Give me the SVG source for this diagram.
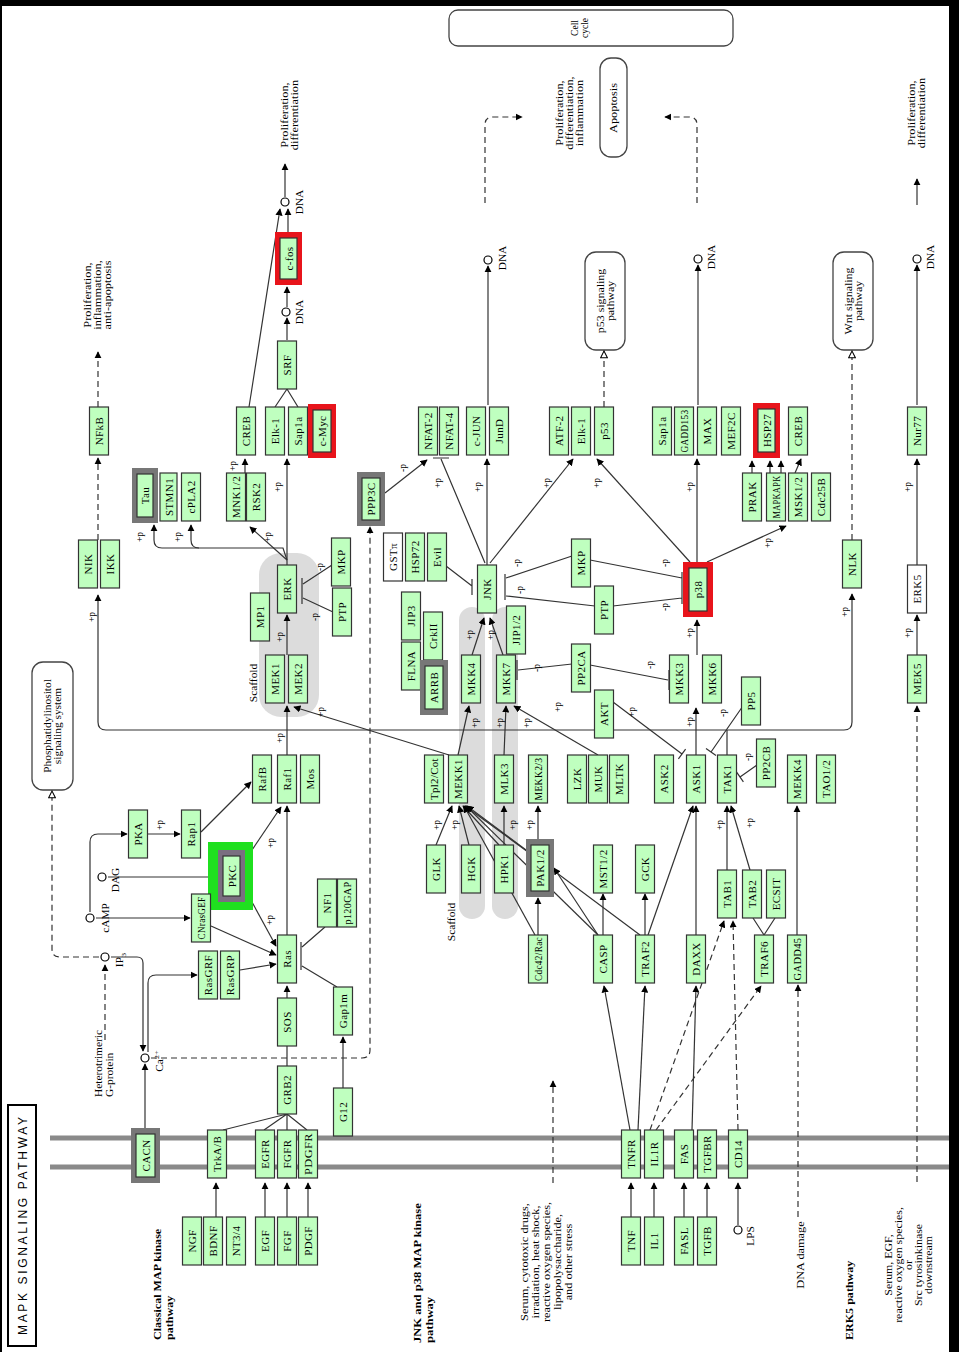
<svg xmlns="http://www.w3.org/2000/svg" width="959" height="1352" viewBox="0 0 959 1352">
<defs>
<marker id="a" viewBox="0 0 10 10" refX="9" refY="5" markerWidth="6" markerHeight="6" orient="auto"><path d="M0,0 L10,5 L0,10z" fill="#000"/></marker>
<marker id="h" viewBox="0 0 10 10" refX="9" refY="5" markerWidth="7" markerHeight="7" orient="auto"><path d="M1,1 L9,5 L1,9z" fill="#fff" stroke="#000" stroke-width="1.2"/></marker>
<style>
text{font-family:"Liberation Serif",serif;fill:#000}
.nd rect{fill:#bfffbf;stroke:#333;stroke-width:1.2}
.nd text{font-size:11px;letter-spacing:0.4px;text-anchor:middle;dominant-baseline:central}
.wh rect{fill:#fff}
.c path{stroke:#333;stroke-width:1.2;fill:none}
.c .ar{marker-end:url(#a)}
.c .ds{stroke-dasharray:6 4}
.c .ho{marker-end:url(#h)}
.p{font-size:9.5px;text-anchor:middle;dominant-baseline:central}
.t9{font-size:9.5px;text-anchor:middle;dominant-baseline:central}
.bd{font-size:10.5px;font-weight:bold;dominant-baseline:central}
.box{fill:#fff;stroke:#444;stroke-width:1.3}
.sc{fill:#dcdcdc}
circle{fill:#fff;stroke:#000;stroke-width:1.2}
.mem{stroke:#8a8a8a;stroke-width:5}
</style>
</defs>
<rect x="0" y="0" width="959" height="1352" fill="#fff"/>
<rect x="0" y="0" width="959" height="6" fill="#000"/>
<rect x="949" y="0" width="10" height="1352" fill="#000"/>
<rect x="0" y="0" width="2" height="1352" fill="#000"/>

<g id="membrane">
<line class="mem" x1="50" y1="1138" x2="949" y2="1138"/>
<line class="mem" x1="50" y1="1167" x2="949" y2="1167"/>
</g>

<g id="scaffolds">
<rect class="sc" x="259" y="553" width="60" height="164" rx="22"/>
<rect class="sc" x="459" y="607" width="26" height="312" rx="13"/>
<rect class="sc" x="492" y="607" width="26" height="312" rx="13"/>
<text class="t9" transform="translate(254,683) rotate(-90) scale(1.2,1)">Scaffold</text>
<text class="t9" transform="translate(452,922) rotate(-90) scale(1.2,1)">Scaffold</text>
</g>

<g id="cellcycle"><rect class="box" x="449" y="10" width="284" height="36" rx="9"/><text class="t9" transform="translate(580,28) rotate(-90)"><tspan x="0" dy="-5">Cell</tspan><tspan x="0" dy="10">cycle</tspan></text></g>
<g id="apoptosis"><rect class="box" x="600" y="58" width="27" height="99" rx="11"/><text class="t9" transform="translate(613.5,108) rotate(-90) scale(1.3,1)">Apoptosis</text></g>
<g id="p53path"><rect class="box" x="585" y="252" width="40" height="98" rx="11"/><text class="t9" transform="translate(605,301) rotate(-90) scale(1.25,1)"><tspan x="0" dy="-5">p53 signaling</tspan><tspan x="0" dy="10">pathway</tspan></text></g>
<g id="wntpath"><rect class="box" x="833" y="252" width="40" height="98" rx="11"/><text class="t9" transform="translate(853,301) rotate(-90) scale(1.25,1)"><tspan x="0" dy="-5">Wnt signaling</tspan><tspan x="0" dy="10">pathway</tspan></text></g>
<g id="pipath"><rect class="box" x="32" y="662" width="41" height="128" rx="11"/><text class="t9" transform="translate(52.5,726) rotate(-90) scale(1.2,1)"><tspan x="0" dy="-5">Phosphatidylinositol</tspan><tspan x="0" dy="10">signaling system</tspan></text></g>

<g id="labels">
<text class="t9" transform="translate(290,115) rotate(-90) scale(1.3,1)"><tspan x="0" dy="-5">Proliferation,</tspan><tspan x="0" dy="10">differentiation</tspan></text>
<text class="t9" transform="translate(98,295) rotate(-90) scale(1.3,1)"><tspan x="0" dy="-10">Proliferation,</tspan><tspan x="0" dy="10">inflammation,</tspan><tspan x="0" dy="10">anti-apoptosis</tspan></text>
<text class="t9" transform="translate(570,113) rotate(-90) scale(1.3,1)"><tspan x="0" dy="-10">Proliferation,</tspan><tspan x="0" dy="10">differentiation,</tspan><tspan x="0" dy="10">inflammation</tspan></text>
<text class="t9" transform="translate(917,113) rotate(-90) scale(1.3,1)"><tspan x="0" dy="-5">Proliferation,</tspan><tspan x="0" dy="10">differentiation</tspan></text>
<text class="t9" transform="translate(104,1097) rotate(-90) scale(1.2,1)" style="text-anchor:start"><tspan x="0" dy="-6">Heterotrimeric</tspan><tspan x="0" dy="11">G-protein</tspan></text>
<text class="bd" transform="translate(163,1340) rotate(-90) scale(1.15,1)"><tspan x="0" dy="-6">Classical MAP kinase</tspan><tspan x="0" dy="12">pathway</tspan></text>
<text class="bd" transform="translate(423,1343) rotate(-90) scale(1.2,1)"><tspan x="0" dy="-6">JNK and p38 MAP kinase</tspan><tspan x="0" dy="12">pathway</tspan></text>
<text class="t9" transform="translate(547,1262) rotate(-90) scale(1.3,1)"><tspan x="0" dy="-22">Serum, cytotoxic drugs,</tspan><tspan x="0" dy="11">irradiation, heat shock,</tspan><tspan x="0" dy="11">reactive oxygen species,</tspan><tspan x="0" dy="11">lipopolysaccharide,</tspan><tspan x="0" dy="11">and other stress</tspan></text>
<text class="t9" transform="translate(801,1255) rotate(-90) scale(1.3,1)">DNA damage</text>
<text class="bd" transform="translate(849,1340) rotate(-90) scale(1.15,1)">ERK5 pathway</text>
<text class="t9" transform="translate(908,1265) rotate(-90) scale(1.25,1)"><tspan x="0" dy="-20">Serum, EGF,</tspan><tspan x="0" dy="10">reactive oxygen species,</tspan><tspan x="0" dy="10">or</tspan><tspan x="0" dy="10">Src tyrosinkinase</tspan><tspan x="0" dy="10">downstream</tspan></text>
<rect x="8" y="1105" width="28" height="241" fill="#fff" stroke="#000" stroke-width="2"/>
<text transform="translate(23,1226) rotate(-90)" style="font-family:'Liberation Sans',sans-serif;font-size:12px;text-anchor:middle;dominant-baseline:central" textLength="218" lengthAdjust="spacing">MAPK  SIGNALING  PATHWAY</text>
</g>

<g id="compounds">
<circle cx="285" cy="202" r="4"/><text class="t9" transform="translate(300,202) rotate(-90) scale(1.2,1)">DNA</text>
<circle cx="286" cy="312" r="4"/><text class="t9" transform="translate(300,312) rotate(-90) scale(1.2,1)">DNA</text>
<circle cx="488" cy="260" r="4"/><text class="t9" transform="translate(503,258) rotate(-90) scale(1.2,1)">DNA</text>
<circle cx="698" cy="259" r="4"/><text class="t9" transform="translate(712,257) rotate(-90) scale(1.2,1)">DNA</text>
<circle cx="917" cy="259" r="4"/><text class="t9" transform="translate(931,257) rotate(-90) scale(1.2,1)">DNA</text>
<circle cx="90" cy="918" r="4"/><text class="t9" transform="translate(106,918) rotate(-90) scale(1.2,1)">cAMP</text>
<circle cx="102" cy="877" r="4"/><text class="t9" transform="translate(116,880) rotate(-90) scale(1.2,1)">DAG</text>
<circle cx="105" cy="957" r="4"/><text class="t9" transform="translate(120,960) rotate(-90) scale(1.2,1)">IP<tspan dy="3" font-size="7">3</tspan></text>
<circle cx="145" cy="1058" r="4"/><text class="t9" transform="translate(160,1061) rotate(-90) scale(1.2,1)">Ca<tspan dy="-4" font-size="7">2+</tspan></text>
<circle cx="738" cy="1230" r="4"/><text class="t9" transform="translate(751,1236) rotate(-90) scale(1.2,1)">LPS</text>
</g>

<g id="edges" class="c">
<path class="ar" d="M216 1217V1183"/>
<path class="ar" d="M265 1217V1183"/>
<path class="ar" d="M287 1217V1183"/>
<path class="ar" d="M308 1217V1183"/>
<path class="ar" d="M631 1217V1183"/>
<path class="ar" d="M654 1217V1183"/>
<path class="ar" d="M684 1217V1183"/>
<path class="ar" d="M707 1217V1183"/>
<path class="ar" d="M738 1225V1183"/>
<path d="M223 1130L287 1114M264 1130L287 1114M287 1130V1114M307 1130L287 1114M287 1066V1046"/>
<path class="ar" d="M287 998V986"/>
<path class="ar" d="M287 935V806"/>
<path class="ar" d="M287 755V706"/>
<path class="ar" d="M287 655V615"/>
<path class="ar" d="M287 565V459"/>
<path class="ar" d="M287 560L250 527"/>
<path class="ar" d="M287 560L283 548H162Q154 548 154 540V525"/>
<path class="ar" d="M199 548Q191 548 191 540V525"/>
<path class="ar" d="M245 473V459"/>
<path d="M275 407L287 389M298 407L287 389"/>
<path class="ar" d="M287 340V318"/>
<path class="ar" d="M287 307V287"/>
<path class="ar" d="M288 232V209"/>
<path class="ar" d="M249 407L280 209"/>
<path class="ar" d="M285 197V164"/>
<path class="ar ds" d="M98 540V458"/>
<path class="ar ds" d="M98 407V352"/>
<path class="ar" d="M106 730Q98 730 98 722V595"/>
<path class="ar" d="M106 730H844Q852 730 852 722V594"/>
<path d="M727 755V730"/>
<path class="ho ds" d="M852 540V351"/>
<path class="ho ds" d="M604 407V351"/>
<path class="ar" d="M488 405V266"/>
<path class="ar" d="M698 405V265"/>
<path class="ar" d="M917 405V265"/>
<path class="ar" d="M917 205V179"/>
<path class="ar ds" d="M485 203V125Q485 117 493 117H522"/>
<path class="ar ds" d="M697 203V125Q697 117 689 117H665"/>
<path class="ar" d="M917 565V459"/>
<path class="ar" d="M917 655V615"/>
<path class="ar ds" d="M917 1182V706"/>
<path class="ar ds" d="M798 1217V985"/>
<path class="ar" d="M797 935V806"/>
<path class="ar ds" d="M553 1183V1081"/>
<path class="ar" d="M487 565V459"/>
<path d="M485 563L441 459M433 458H449"/>
<path class="ar" d="M385 493L427 460"/>
<path class="ar" d="M490 563L573 459"/>
<path class="ar" d="M690 562L597 459"/>
<path class="ar" d="M697 562V459"/>
<path class="ar" d="M707 562L786 526"/>
<path class="ar" d="M752 473V461"/>
<path class="ar" d="M770 473V461"/>
<path class="ar" d="M781 473V461"/>
<path class="ar" d="M795 473L801 459"/>
<path d="M446 566L472 586M472 579V595"/>
<path d="M572 556L506 578M595 606L506 596M505 574V600"/>
<path d="M590 560L682 578M613 606L682 598M682 572V604"/>
<path class="ar" d="M472 655L484 618"/>
<path class="ar" d="M503 655L490 618"/>
<path class="ar" d="M697 655V620"/>
<path d="M572 664L518 670M517 660V680"/>
<path d="M590 665L668 680M669 670V690"/>
<path class="ar" d="M458 755L469 706"/>
<path class="ar" d="M504 755L506 706"/>
<path class="ar" d="M449 755L294 707"/>
<path class="ar" d="M598 755L514 706"/>
<path d="M613 702L682 754M678.4 758.8L685.6 749.2"/>
<path class="ar" d="M696 755V708"/>
<path d="M745 703L711 752M706 748.6L716 755.4"/>
<path d="M757 765L740 777M736.6 772.1L743.4 781.9"/>
<path class="ar" d="M727 870V806"/>
<path class="ar" d="M750 870L731 806"/>
<path d="M764 935L753 918M764 935L775 918"/>
<path class="ar" d="M648 935L693 806"/>
<path class="ar" d="M696 935V806"/>
<path class="ar" d="M645 935V894"/>
<path class="ar" d="M603 935V894"/>
<path class="ar" d="M538 935V898"/>
<path class="ar" d="M538 839V806"/>
<path class="ar" d="M436 845L452 806"/>
<path class="ar" d="M469 845L459 806"/>
<path class="ar" d="M499 845L463 806"/>
<path class="ar" d="M504 845V806"/>
<path class="ar" d="M528 852L465 806"/>
<path class="ar" d="M535 935L464 806"/>
<path class="ar" d="M598 935L466 806"/>
<path class="ar" d="M640 935L467 806"/>
<path class="ar" d="M598 935L554 868"/>
<path class="ar" d="M630 1130L604 986"/>
<path class="ar" d="M638 1130L645 986"/>
<path class="ar" d="M692 1130L696 986"/>
<path class="ar ds" d="M650 1130L724 921"/>
<path class="ar ds" d="M656 1130L761 986"/>
<path class="ar ds" d="M738 1130L733 921"/>
<path class="ar" d="M145 1128V1064"/>
<path class="ar" d="M111 957H137Q143 957 143 963V1051"/>
<path class="ar" d="M148 1052V983Q148 975 156 975H197"/>
<path class="ar ds" d="M105 1040V965"/>
<path class="ho ds" d="M99 957H60Q52 957 52 949V791"/>
<path class="ar ds" d="M151 1058H362Q370 1058 370 1050V527"/>
<path class="ar" d="M96 918H190"/>
<path class="ar" d="M90 912V842Q90 834 98 834H127"/>
<path class="ar" d="M147 834H180"/>
<path class="ar" d="M201 832L251 782"/>
<path d="M108 877H209"/>
<path class="ar" d="M252 850L281 807"/>
<path class="ar" d="M252 902L276 946"/>
<path class="ar" d="M211 926L276 955"/>
<path class="ar" d="M240 970L276 964"/>
<path class="ar" d="M343 1088V1037"/>
<path d="M337 987L302 966M325 927L302 947M301 942V970"/>
<path d="M332 565L303 584M333 612L303 598M302 578V604"/>
</g>

<g id="plabels">
<text class="p" transform="translate(280,738) rotate(-90)">+p</text>
<text class="p" transform="translate(321,712) rotate(-90)">+p</text>
<text class="p" transform="translate(280,637) rotate(-90)">+p</text>
<text class="p" transform="translate(278,487) rotate(-90)">+p</text>
<text class="p" transform="translate(268,537) rotate(-90)">+p</text>
<text class="p" transform="translate(140,537) rotate(-90)">+p</text>
<text class="p" transform="translate(178,537) rotate(-90)">+p</text>
<text class="p" transform="translate(233,466) rotate(-90)">+p</text>
<text class="p" transform="translate(92,617) rotate(-90)">+p</text>
<text class="p" transform="translate(845,612) rotate(-90)">+p</text>
<text class="p" transform="translate(908,487) rotate(-90)">+p</text>
<text class="p" transform="translate(908,633) rotate(-90)">+p</text>
<text class="p" transform="translate(160,825) rotate(-90)">+p</text>
<text class="p" transform="translate(271,843) rotate(-90)">+p</text>
<text class="p" transform="translate(270,920) rotate(-90)">+p</text>
<text class="p" transform="translate(403,468) rotate(-90)">-p</text>
<text class="p" transform="translate(438,483) rotate(-90)">+p</text>
<text class="p" transform="translate(478,487) rotate(-90)">+p</text>
<text class="p" transform="translate(547,483) rotate(-90)">+p</text>
<text class="p" transform="translate(597,483) rotate(-90)">+p</text>
<text class="p" transform="translate(517,563) rotate(-90)">-p</text>
<text class="p" transform="translate(520,590) rotate(-90)">-p</text>
<text class="p" transform="translate(470,635) rotate(-90)">+p</text>
<text class="p" transform="translate(491,635) rotate(-90)">+p</text>
<text class="p" transform="translate(537,668) rotate(-90)">-p</text>
<text class="p" transform="translate(665,563) rotate(-90)">-p</text>
<text class="p" transform="translate(665,607) rotate(-90)">-p</text>
<text class="p" transform="translate(690,487) rotate(-90)">+p</text>
<text class="p" transform="translate(768,543) rotate(-90)">+p</text>
<text class="p" transform="translate(690,633) rotate(-90)">+p</text>
<text class="p" transform="translate(650,665) rotate(-90)">-p</text>
<text class="p" transform="translate(690,722) rotate(-90)">+p</text>
<text class="p" transform="translate(723,713) rotate(-90)">-p</text>
<text class="p" transform="translate(748,757) rotate(-90)">-p</text>
<text class="p" transform="translate(720,825) rotate(-90)">+p</text>
<text class="p" transform="translate(750,823) rotate(-90)">+p</text>
<text class="p" transform="translate(632,712) rotate(-90)">+p</text>
<text class="p" transform="translate(558,707) rotate(-90)">+p</text>
<text class="p" transform="translate(475,723) rotate(-90)">+p</text>
<text class="p" transform="translate(500,723) rotate(-90)">+p</text>
<text class="p" transform="translate(527,723) rotate(-90)">+p</text>
<text class="p" transform="translate(437,825) rotate(-90)">+p</text>
<text class="p" transform="translate(455,825) rotate(-90)">+p</text>
<text class="p" transform="translate(513,825) rotate(-90)">+p</text>
<text class="p" transform="translate(530,825) rotate(-90)">+p</text>
<text class="p" transform="translate(320,567) rotate(-90)">-p</text>
<text class="p" transform="translate(315,617) rotate(-90)">-p</text>
</g>

<g id="n_NFkB" class="nd"><rect x="89.5" y="407" width="19" height="48"/><text transform="translate(99,431) rotate(-90)">NFkB</text></g>
<g id="n_CREB1" class="nd"><rect x="236.5" y="407" width="19" height="48"/><text transform="translate(246,431) rotate(-90)">CREB</text></g>
<g id="n_Elk1a" class="nd"><rect x="265.5" y="407" width="19" height="48"/><text transform="translate(275,431) rotate(-90)">Elk-1</text></g>
<g id="n_Sap1a1" class="nd"><rect x="288.5" y="407" width="19" height="48"/><text transform="translate(298,431) rotate(-90)">Sap1a</text></g>
<g id="n_cMyc" class="nd"><rect x="308" y="404" width="28" height="54" style="fill:#e8141b;stroke:none"/><rect x="313" y="410" width="18" height="42"/><text transform="translate(322,431) rotate(-90)">c-Myc</text></g>
<g id="n_cfos" class="nd"><rect x="275" y="232" width="27" height="53" style="fill:#e8141b;stroke:none"/><rect x="280" y="238" width="17" height="41"/><text transform="translate(288.5,258.5) rotate(-90)">c-fos</text></g>
<g id="n_SRF" class="nd"><rect x="277.5" y="341" width="19" height="48"/><text transform="translate(287,365) rotate(-90)">SRF</text></g>
<g id="n_NFAT2" class="nd"><rect x="418.5" y="407" width="19" height="48"/><text transform="translate(428,431) rotate(-90)">NFAT-2</text></g>
<g id="n_NFAT4" class="nd"><rect x="439.5" y="407" width="19" height="48"/><text transform="translate(449,431) rotate(-90)">NFAT-4</text></g>
<g id="n_cJUN" class="nd"><rect x="466.5" y="407" width="19" height="48"/><text transform="translate(476,431) rotate(-90)">c-JUN</text></g>
<g id="n_JunD" class="nd"><rect x="489.5" y="407" width="19" height="48"/><text transform="translate(499,431) rotate(-90)">JunD</text></g>
<g id="n_ATF2" class="nd"><rect x="549.5" y="407" width="19" height="48"/><text transform="translate(559,431) rotate(-90)">ATF-2</text></g>
<g id="n_Elk1b" class="nd"><rect x="571.5" y="407" width="19" height="48"/><text transform="translate(581,431) rotate(-90)">Elk-1</text></g>
<g id="n_p53" class="nd"><rect x="594.5" y="407" width="19" height="48"/><text transform="translate(604,431) rotate(-90)">p53</text></g>
<g id="n_Sap1a2" class="nd"><rect x="652.5" y="407" width="19" height="48"/><text transform="translate(662,431) rotate(-90)">Sap1a</text></g>
<g id="n_GADD153" class="nd"><rect x="674.5" y="407" width="19" height="48"/><text transform="translate(684,431) rotate(-90)" textLength="43" lengthAdjust="spacingAndGlyphs">GADD153</text></g>
<g id="n_MAX" class="nd"><rect x="697.5" y="407" width="19" height="48"/><text transform="translate(707,431) rotate(-90)">MAX</text></g>
<g id="n_MEF2C" class="nd"><rect x="721.5" y="407" width="19" height="48"/><text transform="translate(731,431) rotate(-90)">MEF2C</text></g>
<g id="n_HSP27" class="nd"><rect x="753" y="403" width="27" height="55" style="fill:#e8141b;stroke:none"/><rect x="758" y="409" width="17" height="43"/><text transform="translate(766.5,430.5) rotate(-90)">HSP27</text></g>
<g id="n_CREB2" class="nd"><rect x="788.5" y="407" width="19" height="48"/><text transform="translate(798,431) rotate(-90)">CREB</text></g>
<g id="n_Nur77" class="nd"><rect x="907.5" y="407" width="19" height="48"/><text transform="translate(917,431) rotate(-90)">Nur77</text></g>

<g id="n_Tau" class="nd"><rect x="132" y="468" width="26" height="55" style="fill:#777;stroke:none"/><rect x="137" y="474" width="16" height="43"/><text transform="translate(145,495.5) rotate(-90)">Tau</text></g>
<g id="n_STMN1" class="nd"><rect x="160" y="473" width="17" height="48"/><text transform="translate(168.5,497) rotate(-90)">STMN1</text></g>
<g id="n_cPLA2" class="nd"><rect x="181.5" y="473" width="19" height="48"/><text transform="translate(191,497) rotate(-90)">cPLA2</text></g>
<g id="n_MNK12" class="nd"><rect x="226.5" y="473" width="19" height="48"/><text transform="translate(236,497) rotate(-90)">MNK1/2</text></g>
<g id="n_RSK2" class="nd"><rect x="246.5" y="473" width="19" height="48"/><text transform="translate(256,497) rotate(-90)">RSK2</text></g>
<g id="n_PPP3C" class="nd"><rect x="357" y="472" width="28" height="54" style="fill:#777;stroke:none"/><rect x="362" y="478" width="18" height="42"/><text transform="translate(371,499) rotate(-90)">PPP3C</text></g>
<g id="n_PRAK" class="nd"><rect x="742.5" y="473" width="19" height="48"/><text transform="translate(752,497) rotate(-90)">PRAK</text></g>
<g id="n_MAPKAPK" class="nd"><rect x="766.5" y="473" width="19" height="48"/><text transform="translate(776,497) rotate(-90)" textLength="43" lengthAdjust="spacingAndGlyphs">MAPKAPK</text></g>
<g id="n_MSK12" class="nd"><rect x="788.5" y="473" width="19" height="48"/><text transform="translate(798,497) rotate(-90)">MSK1/2</text></g>
<g id="n_Cdc25B" class="nd"><rect x="811.5" y="473" width="19" height="48"/><text transform="translate(821,497) rotate(-90)">Cdc25B</text></g>

<g id="n_NIK" class="nd"><rect x="78.5" y="540" width="19" height="48"/><text transform="translate(88,564) rotate(-90)">NIK</text></g>
<g id="n_IKK" class="nd"><rect x="100.5" y="540" width="19" height="48"/><text transform="translate(110,564) rotate(-90)">IKK</text></g>
<g id="n_ERK" class="nd"><rect x="277.5" y="565" width="19" height="48"/><text transform="translate(287,589) rotate(-90)">ERK</text></g>
<g id="n_MP1" class="nd"><rect x="250.5" y="593" width="19" height="48"/><text transform="translate(260,617) rotate(-90)">MP1</text></g>
<g id="n_MKP1" class="nd"><rect x="331.5" y="538" width="19" height="48"/><text transform="translate(341,562) rotate(-90)">MKP</text></g>
<g id="n_PTP1" class="nd"><rect x="332.5" y="588" width="19" height="48"/><text transform="translate(342,612) rotate(-90)">PTP</text></g>
<g id="n_GSTpi" class="nd wh"><rect x="383.5" y="533" width="19" height="48"/><text transform="translate(393,557) rotate(-90)">GSTπ</text></g>
<g id="n_HSP72" class="nd"><rect x="405.5" y="533" width="19" height="48"/><text transform="translate(415,557) rotate(-90)">HSP72</text></g>
<g id="n_Evil" class="nd"><rect x="427.5" y="533" width="19" height="48"/><text transform="translate(437,557) rotate(-90)">Evil</text></g>
<g id="n_JNK" class="nd"><rect x="477.5" y="565" width="19" height="48"/><text transform="translate(487,589) rotate(-90)">JNK</text></g>
<g id="n_JIP3" class="nd"><rect x="401.5" y="592" width="19" height="48"/><text transform="translate(411,616) rotate(-90)">JIP3</text></g>
<g id="n_CrkII" class="nd"><rect x="423.5" y="612" width="19" height="48"/><text transform="translate(433,636) rotate(-90)">CrkII</text></g>
<g id="n_FLNA" class="nd"><rect x="401.5" y="642" width="19" height="48"/><text transform="translate(411,666) rotate(-90)">FLNA</text></g>
<g id="n_ARRB" class="nd"><rect x="420" y="660" width="28" height="55" style="fill:#777;stroke:none"/><rect x="425" y="666" width="18" height="43"/><text transform="translate(434,687.5) rotate(-90)">ARRB</text></g>
<g id="n_JIP12" class="nd"><rect x="506.5" y="606" width="19" height="48"/><text transform="translate(516,630) rotate(-90)">JIP1/2</text></g>
<g id="n_MKP2" class="nd"><rect x="571.5" y="539" width="19" height="48"/><text transform="translate(581,563) rotate(-90)">MKP</text></g>
<g id="n_PTP2" class="nd"><rect x="594.5" y="586" width="19" height="48"/><text transform="translate(604,610) rotate(-90)">PTP</text></g>
<g id="n_p38" class="nd"><rect x="683" y="562" width="30" height="55" style="fill:#e8141b;stroke:none"/><rect x="689" y="568" width="18" height="43"/><text transform="translate(698,589.5) rotate(-90)">p38</text></g>
<g id="n_NLK" class="nd"><rect x="842.5" y="540" width="19" height="48"/><text transform="translate(852,564) rotate(-90)">NLK</text></g>
<g id="n_ERK5" class="nd wh"><rect x="907.5" y="565" width="19" height="48"/><text transform="translate(917,589) rotate(-90)">ERK5</text></g>

<g id="n_MEK1" class="nd"><rect x="265.5" y="655" width="19" height="48"/><text transform="translate(275,679) rotate(-90)">MEK1</text></g>
<g id="n_MEK2" class="nd"><rect x="288.5" y="655" width="19" height="48"/><text transform="translate(298,679) rotate(-90)">MEK2</text></g>
<g id="n_MKK4" class="nd"><rect x="461.5" y="655" width="19" height="48"/><text transform="translate(471,679) rotate(-90)">MKK4</text></g>
<g id="n_MKK7" class="nd"><rect x="496.5" y="655" width="19" height="48"/><text transform="translate(506,679) rotate(-90)">MKK7</text></g>
<g id="n_PP2CA" class="nd"><rect x="571.5" y="644" width="19" height="48"/><text transform="translate(581,668) rotate(-90)">PP2CA</text></g>
<g id="n_MKK3" class="nd"><rect x="669.5" y="655" width="19" height="48"/><text transform="translate(679,679) rotate(-90)">MKK3</text></g>
<g id="n_MKK6" class="nd"><rect x="702.5" y="655" width="19" height="48"/><text transform="translate(712,679) rotate(-90)">MKK6</text></g>
<g id="n_AKT" class="nd"><rect x="594.5" y="690" width="19" height="48"/><text transform="translate(604,714) rotate(-90)">AKT</text></g>
<g id="n_PP5" class="nd"><rect x="741.5" y="677" width="19" height="48"/><text transform="translate(751,701) rotate(-90)">PP5</text></g>
<g id="n_MEK5" class="nd"><rect x="907.5" y="655" width="19" height="48"/><text transform="translate(917,679) rotate(-90)">MEK5</text></g>

<g id="n_RafB" class="nd"><rect x="252.5" y="755" width="19" height="48"/><text transform="translate(262,779) rotate(-90)">RafB</text></g>
<g id="n_Raf1" class="nd"><rect x="277.5" y="755" width="19" height="48"/><text transform="translate(287,779) rotate(-90)">Raf1</text></g>
<g id="n_Mos" class="nd"><rect x="300.5" y="755" width="19" height="48"/><text transform="translate(310,779) rotate(-90)">Mos</text></g>
<g id="n_Tpl2" class="nd"><rect x="424.5" y="755" width="19" height="48"/><text transform="translate(434,779) rotate(-90)" textLength="42" lengthAdjust="spacingAndGlyphs">Tpl2/Cot</text></g>
<g id="n_MEKK1" class="nd"><rect x="448.5" y="755" width="19" height="48"/><text transform="translate(458,779) rotate(-90)">MEKK1</text></g>
<g id="n_MLK3" class="nd"><rect x="494.5" y="755" width="19" height="48"/><text transform="translate(504,779) rotate(-90)">MLK3</text></g>
<g id="n_MEKK23" class="nd"><rect x="528.5" y="755" width="19" height="48"/><text transform="translate(538,779) rotate(-90)" textLength="43" lengthAdjust="spacingAndGlyphs">MEKK2/3</text></g>
<g id="n_LZK" class="nd"><rect x="567.5" y="755" width="19" height="48"/><text transform="translate(577,779) rotate(-90)">LZK</text></g>
<g id="n_MUK" class="nd"><rect x="588.5" y="755" width="19" height="48"/><text transform="translate(598,779) rotate(-90)">MUK</text></g>
<g id="n_MLTK" class="nd"><rect x="609.5" y="755" width="19" height="48"/><text transform="translate(619,779) rotate(-90)">MLTK</text></g>
<g id="n_ASK2" class="nd"><rect x="654.5" y="755" width="19" height="48"/><text transform="translate(664,779) rotate(-90)">ASK2</text></g>
<g id="n_ASK1" class="nd"><rect x="686.5" y="755" width="19" height="48"/><text transform="translate(696,779) rotate(-90)">ASK1</text></g>
<g id="n_TAK1" class="nd"><rect x="717.5" y="755" width="19" height="48"/><text transform="translate(727,779) rotate(-90)">TAK1</text></g>
<g id="n_PP2CB" class="nd"><rect x="756.5" y="739" width="19" height="48"/><text transform="translate(766,763) rotate(-90)">PP2CB</text></g>
<g id="n_MEKK4" class="nd"><rect x="787.5" y="755" width="19" height="48"/><text transform="translate(797,779) rotate(-90)">MEKK4</text></g>
<g id="n_TAO12" class="nd"><rect x="816.5" y="755" width="19" height="48"/><text transform="translate(826,779) rotate(-90)">TAO1/2</text></g>

<g id="n_PKA" class="nd"><rect x="128.5" y="810" width="19" height="48"/><text transform="translate(138,834) rotate(-90)">PKA</text></g>
<g id="n_Rap1" class="nd"><rect x="181.5" y="810" width="19" height="48"/><text transform="translate(191,834) rotate(-90)">Rap1</text></g>
<g id="n_PKC" class="nd"><rect x="208" y="842" width="45" height="68" style="fill:#1fe01f;stroke:none"/><rect x="218" y="850" width="27" height="52" style="fill:#7a6f80;stroke:none"/><rect x="223" y="856" width="17" height="40"/><text transform="translate(231.5,876) rotate(-90)">PKC</text></g>

<g id="n_GLK" class="nd"><rect x="426.5" y="845" width="19" height="48"/><text transform="translate(436,869) rotate(-90)">GLK</text></g>
<g id="n_HGK" class="nd"><rect x="461.5" y="845" width="19" height="48"/><text transform="translate(471,869) rotate(-90)">HGK</text></g>
<g id="n_HPK1" class="nd"><rect x="494.5" y="845" width="19" height="48"/><text transform="translate(504,869) rotate(-90)">HPK1</text></g>
<g id="n_PAK12" class="nd"><rect x="526" y="839" width="28" height="58" style="fill:#777;stroke:none"/><rect x="531" y="845" width="18" height="46"/><text transform="translate(540,868) rotate(-90)">PAK1/2</text></g>
<g id="n_MST12" class="nd"><rect x="593.5" y="845" width="19" height="48"/><text transform="translate(603,869) rotate(-90)">MST1/2</text></g>
<g id="n_GCK" class="nd"><rect x="635.5" y="845" width="19" height="48"/><text transform="translate(645,869) rotate(-90)">GCK</text></g>
<g id="n_TAB1" class="nd"><rect x="717.5" y="870" width="19" height="48"/><text transform="translate(727,894) rotate(-90)">TAB1</text></g>
<g id="n_TAB2" class="nd"><rect x="742.5" y="870" width="19" height="48"/><text transform="translate(752,894) rotate(-90)">TAB2</text></g>
<g id="n_ECSIT" class="nd"><rect x="766.5" y="870" width="19" height="48"/><text transform="translate(776,894) rotate(-90)">ECSIT</text></g>
<g id="n_NF1" class="nd"><rect x="317.5" y="879" width="19" height="48"/><text transform="translate(327,903) rotate(-90)">NF1</text></g>
<g id="n_p120GAP" class="nd"><rect x="337.5" y="879" width="19" height="48"/><text transform="translate(347,903) rotate(-90)" textLength="43" lengthAdjust="spacingAndGlyphs">p120GAP</text></g>
<g id="n_CNrasGEF" class="nd"><rect x="191.5" y="894" width="19" height="48"/><text transform="translate(201,918) rotate(-90)" textLength="43" lengthAdjust="spacingAndGlyphs">CNrasGEF</text></g>

<g id="n_Ras" class="nd"><rect x="277.5" y="935" width="19" height="48"/><text transform="translate(287,959) rotate(-90)">Ras</text></g>
<g id="n_RasGRF" class="nd"><rect x="198.5" y="951" width="19" height="48"/><text transform="translate(208,975) rotate(-90)">RasGRF</text></g>
<g id="n_RasGRP" class="nd"><rect x="220.5" y="951" width="19" height="48"/><text transform="translate(230,975) rotate(-90)">RasGRP</text></g>
<g id="n_Cdc42" class="nd"><rect x="528.5" y="935" width="19" height="48"/><text transform="translate(538,959) rotate(-90)" textLength="44" lengthAdjust="spacingAndGlyphs">Cdc42/Rac</text></g>
<g id="n_CASP" class="nd"><rect x="593.5" y="935" width="19" height="48"/><text transform="translate(603,959) rotate(-90)">CASP</text></g>
<g id="n_TRAF2" class="nd"><rect x="635.5" y="935" width="19" height="48"/><text transform="translate(645,959) rotate(-90)">TRAF2</text></g>
<g id="n_DAXX" class="nd"><rect x="686.5" y="935" width="19" height="48"/><text transform="translate(696,959) rotate(-90)">DAXX</text></g>
<g id="n_TRAF6" class="nd"><rect x="754.5" y="935" width="19" height="48"/><text transform="translate(764,959) rotate(-90)">TRAF6</text></g>
<g id="n_GADD45" class="nd"><rect x="787.5" y="935" width="19" height="48"/><text transform="translate(797,959) rotate(-90)" textLength="43" lengthAdjust="spacingAndGlyphs">GADD45</text></g>
<g id="n_SOS" class="nd"><rect x="277.5" y="998" width="19" height="48"/><text transform="translate(287,1022) rotate(-90)">SOS</text></g>
<g id="n_Gap1m" class="nd"><rect x="333.5" y="987" width="19" height="48"/><text transform="translate(343,1011) rotate(-90)">Gap1m</text></g>
<g id="n_GRB2" class="nd"><rect x="277.5" y="1066" width="19" height="48"/><text transform="translate(287,1090) rotate(-90)">GRB2</text></g>
<g id="n_G12" class="nd"><rect x="333.5" y="1088" width="19" height="48"/><text transform="translate(343,1112) rotate(-90)">G12</text></g>

<g id="n_CACN" class="nd"><rect x="131" y="1128" width="29" height="55" style="fill:#777;stroke:none"/><rect x="136" y="1134" width="19" height="43"/><text transform="translate(145.5,1155.5) rotate(-90)">CACN</text></g>
<g id="n_TrkAB" class="nd"><rect x="207.5" y="1130" width="19" height="48"/><text transform="translate(217,1154) rotate(-90)">TrkA/B</text></g>
<g id="n_EGFR" class="nd"><rect x="255.5" y="1130" width="19" height="48"/><text transform="translate(265,1154) rotate(-90)">EGFR</text></g>
<g id="n_FGFR" class="nd"><rect x="277.5" y="1130" width="19" height="48"/><text transform="translate(287,1154) rotate(-90)">FGFR</text></g>
<g id="n_PDGFR" class="nd"><rect x="298.5" y="1130" width="19" height="48"/><text transform="translate(308,1154) rotate(-90)" textLength="42" lengthAdjust="spacingAndGlyphs">PDGFR</text></g>
<g id="n_TNFR" class="nd"><rect x="621.5" y="1130" width="19" height="48"/><text transform="translate(631,1154) rotate(-90)">TNFR</text></g>
<g id="n_IL1R" class="nd"><rect x="644.5" y="1130" width="19" height="48"/><text transform="translate(654,1154) rotate(-90)">IL1R</text></g>
<g id="n_FAS" class="nd"><rect x="674.5" y="1130" width="19" height="48"/><text transform="translate(684,1154) rotate(-90)">FAS</text></g>
<g id="n_TGFBR" class="nd"><rect x="697.5" y="1130" width="19" height="48"/><text transform="translate(707,1154) rotate(-90)">TGFBR</text></g>
<g id="n_CD14" class="nd"><rect x="728.5" y="1130" width="19" height="48"/><text transform="translate(738,1154) rotate(-90)">CD14</text></g>

<g id="n_NGF" class="nd"><rect x="182.5" y="1217" width="19" height="48"/><text transform="translate(192,1241) rotate(-90)">NGF</text></g>
<g id="n_BDNF" class="nd"><rect x="203.5" y="1217" width="19" height="48"/><text transform="translate(213,1241) rotate(-90)">BDNF</text></g>
<g id="n_NT34" class="nd"><rect x="226.5" y="1217" width="19" height="48"/><text transform="translate(236,1241) rotate(-90)">NT3/4</text></g>
<g id="n_EGF" class="nd"><rect x="255.5" y="1217" width="19" height="48"/><text transform="translate(265,1241) rotate(-90)">EGF</text></g>
<g id="n_FGF" class="nd"><rect x="277.5" y="1217" width="19" height="48"/><text transform="translate(287,1241) rotate(-90)">FGF</text></g>
<g id="n_PDGF" class="nd"><rect x="298.5" y="1217" width="19" height="48"/><text transform="translate(308,1241) rotate(-90)">PDGF</text></g>
<g id="n_TNF" class="nd"><rect x="621.5" y="1217" width="19" height="48"/><text transform="translate(631,1241) rotate(-90)">TNF</text></g>
<g id="n_IL1" class="nd"><rect x="644.5" y="1217" width="19" height="48"/><text transform="translate(654,1241) rotate(-90)">IL1</text></g>
<g id="n_FASL" class="nd"><rect x="674.5" y="1217" width="19" height="48"/><text transform="translate(684,1241) rotate(-90)">FASL</text></g>
<g id="n_TGFB" class="nd"><rect x="697.5" y="1217" width="19" height="48"/><text transform="translate(707,1241) rotate(-90)">TGFB</text></g>
</svg>
